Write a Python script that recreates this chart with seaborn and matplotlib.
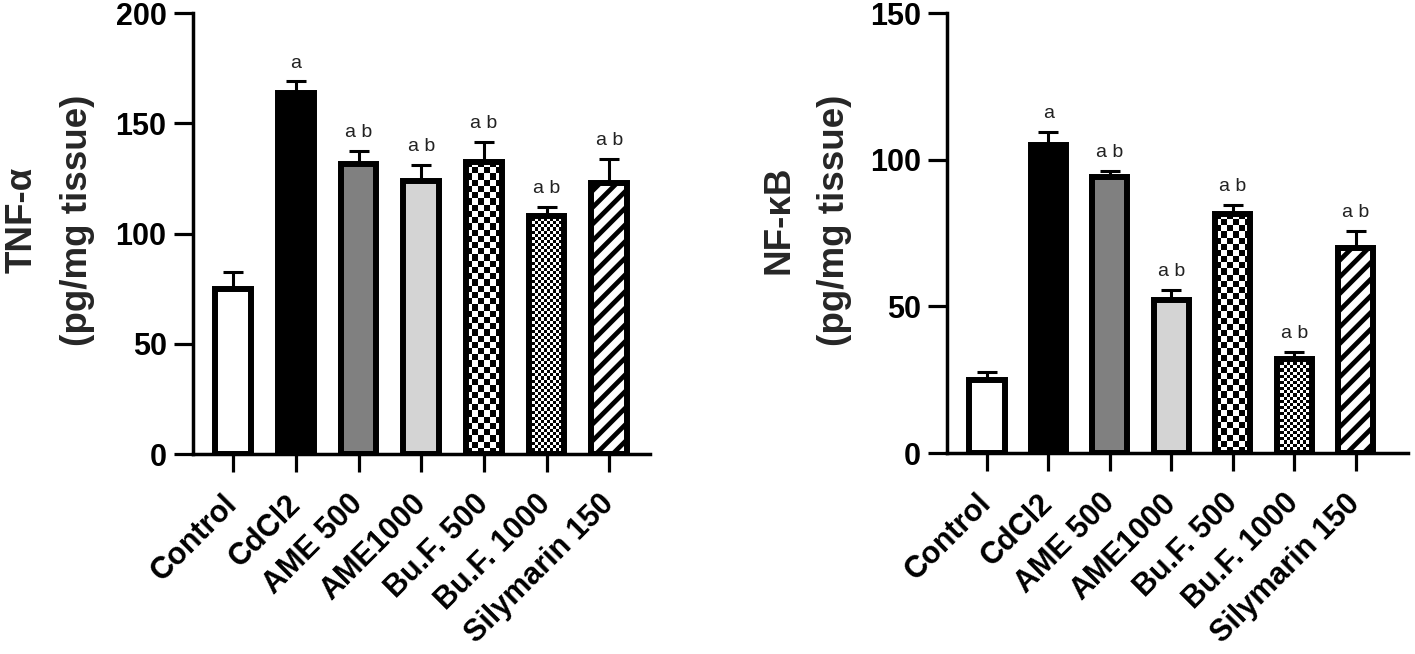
import numpy as np
import pandas as pd
import seaborn as sns
import matplotlib.pyplot as plt

# ---------------- data ----------------
groups = ["Control", "CdCl2", "AME 500", "AME1000", "Bu.F. 500", "Bu.F. 1000", "Silymarin 150"]
tnf_mean = [75.0, 163.5, 131.5, 124.0, 132.5, 108.0, 123.0]
tnf_sem = [7.5, 5.5, 6.0, 7.0, 9.0, 4.0, 11.0]
nfkb_mean = [25.0, 105.0, 94.0, 52.0, 81.5, 32.0, 70.0]
nfkb_sem = [2.6, 4.5, 2.3, 3.7, 3.0, 2.6, 5.7]
tnf_sig = ["", "a", "a b", "a b", "a b", "a b", "a b"]
nfkb_sig = ["", "a", "a b", "a b", "a b", "a b", "a b"]

# fill styles per group
fills = ["white", "black", "#808080", "#d4d4d4", "white", "white", "white"]
patterns = [None, None, None, None, ("checker", 6.2), ("checker", 3.1), ("hatch", "//")]

sns.set_theme(style="white")
plt.rcParams["font.family"] = ["Liberation Sans", "DejaVu Sans"]
plt.rcParams["hatch.linewidth"] = 3.4
plt.rcParams["hatch.color"] = "black"

fig = plt.figure(figsize=(14.15, 6.54), dpi=100)
ax1 = fig.add_axes([0.1364, 0.3058, 0.3230, 0.6743])
ax2 = fig.add_axes([0.6693, 0.3073, 0.3258, 0.6728])


def panel(ax, means, sems, sigs, ymax, ylabel, xlim, labx):
    df = pd.DataFrame({"group": groups, "value": means})
    sns.barplot(data=df, x="group", y="value", hue="group", palette=fills,
                order=groups, hue_order=groups, legend=False, errorbar=None,
                width=0.57, edgecolor="black", linewidth=4.3, saturation=1,
                ax=ax, zorder=2)
    ax.set_xlim(*xlim)
    ax.set_ylim(0, ymax)
    xs = np.arange(len(groups))
    # error bars (upper only)
    ax.errorbar(xs, means, yerr=[np.zeros(len(sems)), sems], fmt="none",
                ecolor="black", elinewidth=2.2, capsize=7.5, capthick=2.2, zorder=1.5)
    # patterns
    for patch, pat in zip(ax.patches, patterns):
        if pat is None:
            continue
        if pat[0] == "hatch":
            patch.set_hatch(pat[1])
            continue
        cell = pat[1]
        x0, w, h = patch.get_x(), patch.get_width(), patch.get_height()
        p0 = ax.transData.transform((x0, 0))
        p1 = ax.transData.transform((x0 + w, h))
        ncols = max(1, int(round((p1[0] - p0[0]) / cell)))
        nrows = max(1, int(round((p1[1] - p0[1]) / cell)))
        arr = (np.add.outer(np.arange(nrows), np.arange(ncols)) % 2).astype(float)
        patch.set_facecolor("none")
        im = ax.imshow(arr, cmap="gray", vmin=0, vmax=1, extent=(x0, x0 + w, 0, h),
                       interpolation="nearest", aspect="auto", zorder=1.8)
        im.set_clip_path(patch)
    ax.set_xlim(*xlim)
    ax.set_ylim(0, ymax)
    # significance letters
    for x, m, s, t in zip(xs, means, sems, sigs):
        if t:
            ax.annotate(t, (x, m + s), xytext=(0, 7), textcoords="offset points",
                        ha="center", va="bottom", fontsize=14, color="#222222")
    ax.set_yticks(np.arange(0, ymax + 1, 50))
    ax.set_xlabel("")
    ax.set_ylabel(ylabel, fontsize=26.5, fontweight="bold", linespacing=1.75)
    ax.yaxis.set_label_coords(labx, 0.53)
    for side in ["top", "right"]:
        ax.spines[side].set_visible(False)
    for side in ["left", "bottom"]:
        ax.spines[side].set_linewidth(2.5)
        ax.spines[side].set_color("black")
    ax.tick_params(axis="y", direction="out", length=14, width=2.3, pad=5,
                   labelsize=22, left=True, colors="black")
    ax.tick_params(axis="x", direction="out", length=13, width=2.3, pad=20,
                   labelsize=22, bottom=True, colors="black")
    for lab in ax.get_yticklabels():
        lab.set_fontweight("bold")
    ax.set_xticks(xs)
    ax.set_xticklabels(groups, rotation=45, ha="right", va="center",
                       rotation_mode="anchor", fontweight="bold", fontsize=22)
    ax.set_facecolor("white")


panel(ax1, tnf_mean, tnf_sem, tnf_sig, 200, "TNF-α\n(pg/mg tissue)", (-0.64, 6.65), -0.214)
panel(ax2, nfkb_mean, nfkb_sem, nfkb_sig, 150, "NF-κB\n(pg/mg tissue)", (-0.65, 6.85), -0.206)

fig.savefig("out.png", dpi=100, facecolor="white")
